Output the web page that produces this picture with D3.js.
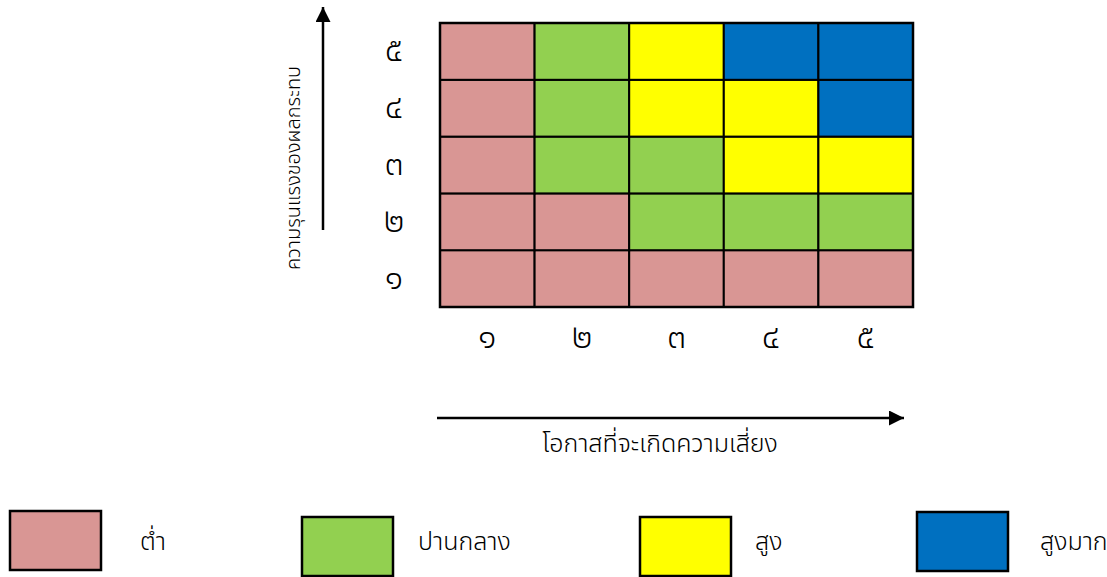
<!DOCTYPE html>
<html><head><meta charset="utf-8">
<script src="https://cdn.jsdelivr.net/npm/d3@7"></script>
<style>body{margin:0;background:#fff}svg{display:block}text{font-family:"Noto Sans Thai","Noto Sans","Noto Sans Thai UI",sans-serif;font-weight:300;fill:#000}</style>
</head><body>
<svg id="c" width="1107" height="577"></svg>
<script>
const likelihood = [1,2,3,4,5];
const impact = [1,2,3,4,5];
const thaiDigits = ["๑","๒","๓","๔","๕"];
const levels = ["low","medium","high","veryhigh"];
const levelNames = ["ต่ำ","ปานกลาง","สูง","สูงมาก"];
const levelColors = ["#D99694","#92D050","#FFFF00","#0070C0"];
// risk level index per impact row (1..5), per likelihood column (1..5)
const row1 = [0,0,0,0,0];
const row2 = [0,0,1,1,1];
const row3 = [0,1,1,2,2];
const row4 = [0,1,2,2,3];
const row5 = [0,1,2,3,3];
const xTitle = "โอกาสที่จะเกิดความเสี่ยง";
const yTitle = "ความรุนแรงของผลกระทบ";

const grid = [row1,row2,row3,row4,row5];
const cells = [];
impact.forEach((im,i)=>likelihood.forEach((lk,j)=>cells.push({im,lk,lvl:grid[i][j]})));

const svg = d3.select("#c");
const x = d3.scaleBand().domain(likelihood).range([440,913]);
const y = d3.scaleBand().domain(impact.slice().reverse()).range([23,307]);
const color = d3.scaleOrdinal().domain(d3.range(levels.length)).range(levelColors);

svg.append("g").selectAll("rect").data(cells).join("rect")
  .attr("x",d=>x(d.lk)).attr("y",d=>y(d.im))
  .attr("width",x.bandwidth()).attr("height",y.bandwidth())
  .attr("fill",d=>color(d.lvl)).attr("stroke","#000").attr("stroke-width",2);
svg.append("rect").attr("x",440).attr("y",23).attr("width",473).attr("height",284)
  .attr("fill","none").attr("stroke","#000").attr("stroke-width",2.5);

// tick labels
svg.append("g").selectAll("text").data(likelihood).join("text")
  .attr("x",d=>x(d)+x.bandwidth()/2).attr("y",348)
  .attr("text-anchor","middle").attr("font-size",34).text((d,i)=>thaiDigits[i]);
svg.append("g").selectAll("text").data(impact).join("text")
  .attr("x",394).attr("y",d=>y(d)+y.bandwidth()/2+10)
  .attr("text-anchor","middle").attr("font-size",34).text((d,i)=>thaiDigits[i]);

// arrows
const defs = svg.append("defs");
defs.append("marker").attr("id","ah").attr("viewBox","0 0 10 10").attr("refX",10).attr("refY",5)
  .attr("markerUnits","userSpaceOnUse").attr("markerWidth",15).attr("markerHeight",15).attr("orient","auto")
  .append("path").attr("d","M0,0L10,5L0,10Z").attr("fill","#000");
svg.append("line").attr("x1",437).attr("y1",418).attr("x2",904).attr("y2",418)
  .attr("stroke","#000").attr("stroke-width",2.5).attr("marker-end","url(#ah)");
svg.append("line").attr("x1",323).attr("y1",230).attr("x2",323).attr("y2",7)
  .attr("stroke","#000").attr("stroke-width",2.5).attr("marker-end","url(#ah)");

svg.append("text").attr("x",660).attr("y",452).attr("text-anchor","middle").attr("font-size",25).text(xTitle);
svg.append("text").attr("transform","translate(300,168) rotate(-90)").attr("text-anchor","middle").attr("font-size",20).text(yTitle);

// legend
const legBoxX = [10,302,640,917];
const legBoxY = [511,517,517,512];
const legTextX = [140,418,755,1040];
const lg = svg.append("g").selectAll("g").data(levels).join("g");
lg.append("rect").attr("x",(d,i)=>legBoxX[i]).attr("y",(d,i)=>legBoxY[i]).attr("width",91).attr("height",59)
  .attr("fill",(d,i)=>color(i)).attr("stroke","#000").attr("stroke-width",2.5);
lg.append("text").attr("x",(d,i)=>legTextX[i]).attr("y",550).attr("font-size",25).text((d,i)=>levelNames[i]);
</script>
</body></html>
